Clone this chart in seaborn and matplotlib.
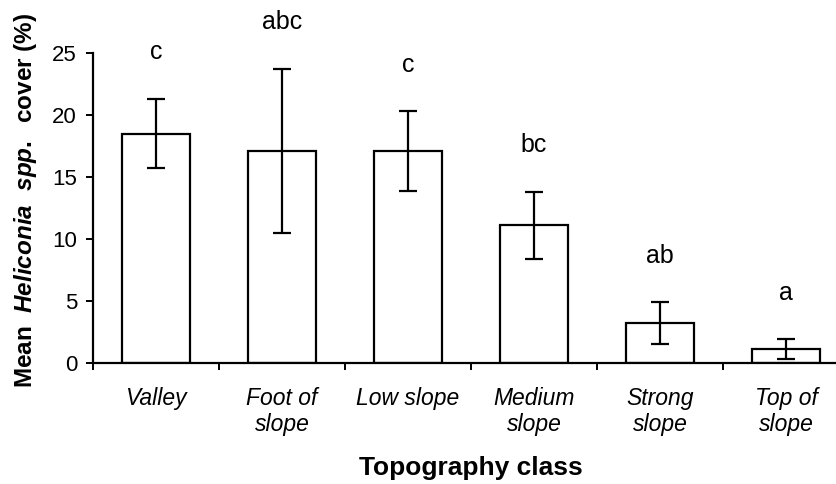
import numpy as np
import pandas as pd
import matplotlib
matplotlib.use("Agg")
import matplotlib.pyplot as plt
import seaborn as sns

classes = ["Valley", "Foot of\nslope", "Low slope", "Medium\nslope", "Strong\nslope", "Top of\nslope"]
mean_cover = [18.5, 17.1, 17.1, 11.1, 3.2, 1.1]
std_err = [2.8, 6.6, 3.2, 2.7, 1.7, 0.8]
groups = ["c", "abc", "c", "bc", "ab", "a"]

sns.set_theme(style="white")
plt.rcParams["font.family"] = ["Liberation Sans", "DejaVu Sans"]
plt.rcParams["text.color"] = "black"
plt.rcParams["axes.labelcolor"] = "black"
plt.rcParams["xtick.color"] = "black"
plt.rcParams["ytick.color"] = "black"
plt.rcParams["mathtext.fontset"] = "custom"
plt.rcParams["mathtext.rm"] = "Liberation Sans:bold"
plt.rcParams["mathtext.it"] = "Liberation Sans:italic:bold"
plt.rcParams["mathtext.bf"] = "Liberation Sans:bold"

df = pd.DataFrame({"cls": classes, "cover": mean_cover})

fig = plt.figure(figsize=(8.37, 4.84), dpi=100)
ax = fig.add_axes([93 / 837, (484 - 363) / 484, (849 - 93) / 837, (363 - 53) / 484])

sns.barplot(data=df, x="cls", y="cover", ax=ax, color="white", edgecolor="black",
            linewidth=1.6, width=0.54, errorbar=None)
x = np.arange(len(classes))
ax.errorbar(x, mean_cover, yerr=std_err, fmt="none", ecolor="black",
            elinewidth=1.6, capsize=6.5, capthick=1.6)

for xi, m, e, g in zip(x, mean_cover, std_err, groups):
    ax.text(xi, m + e + 3.2, g, ha="center", va="baseline", fontsize=18,
            color="black", clip_on=False)

ax.set_xlim(-0.5, len(classes) - 0.5)
ax.set_ylim(0, 25)
ax.set_yticks([0, 5, 10, 15, 20, 25])
ax.tick_params(axis="y", labelsize=16, length=5, width=1.4, direction="out",
               left=True, colors="black", pad=6.5)
ax.set_xticks(x)
ax.set_xticklabels(classes, fontstyle="italic", fontsize=16.5, linespacing=1.2)
ax.tick_params(axis="x", which="major", length=0, pad=17)
ax.set_xticks(np.arange(-0.5, len(classes), 1.0), minor=True)
ax.tick_params(axis="x", which="minor", length=5, width=1.4, direction="out",
               bottom=True, color="black")

for side in ["top", "right"]:
    ax.spines[side].set_visible(False)
for side in ["left", "bottom"]:
    ax.spines[side].set_color("black")
    ax.spines[side].set_linewidth(1.6)

ax.set_xlabel("Topography class", fontsize=19, fontweight="bold")
ax.xaxis.set_label_coords(0.5, -0.30)
ax.set_ylabel(r"Mean  $\it{Heliconia\ \ spp.}$  cover (%)", fontsize=17.5,
              fontweight="bold")
ax.yaxis.set_label_coords(-0.072, 0.526)

fig.savefig("out.png", dpi=100)
